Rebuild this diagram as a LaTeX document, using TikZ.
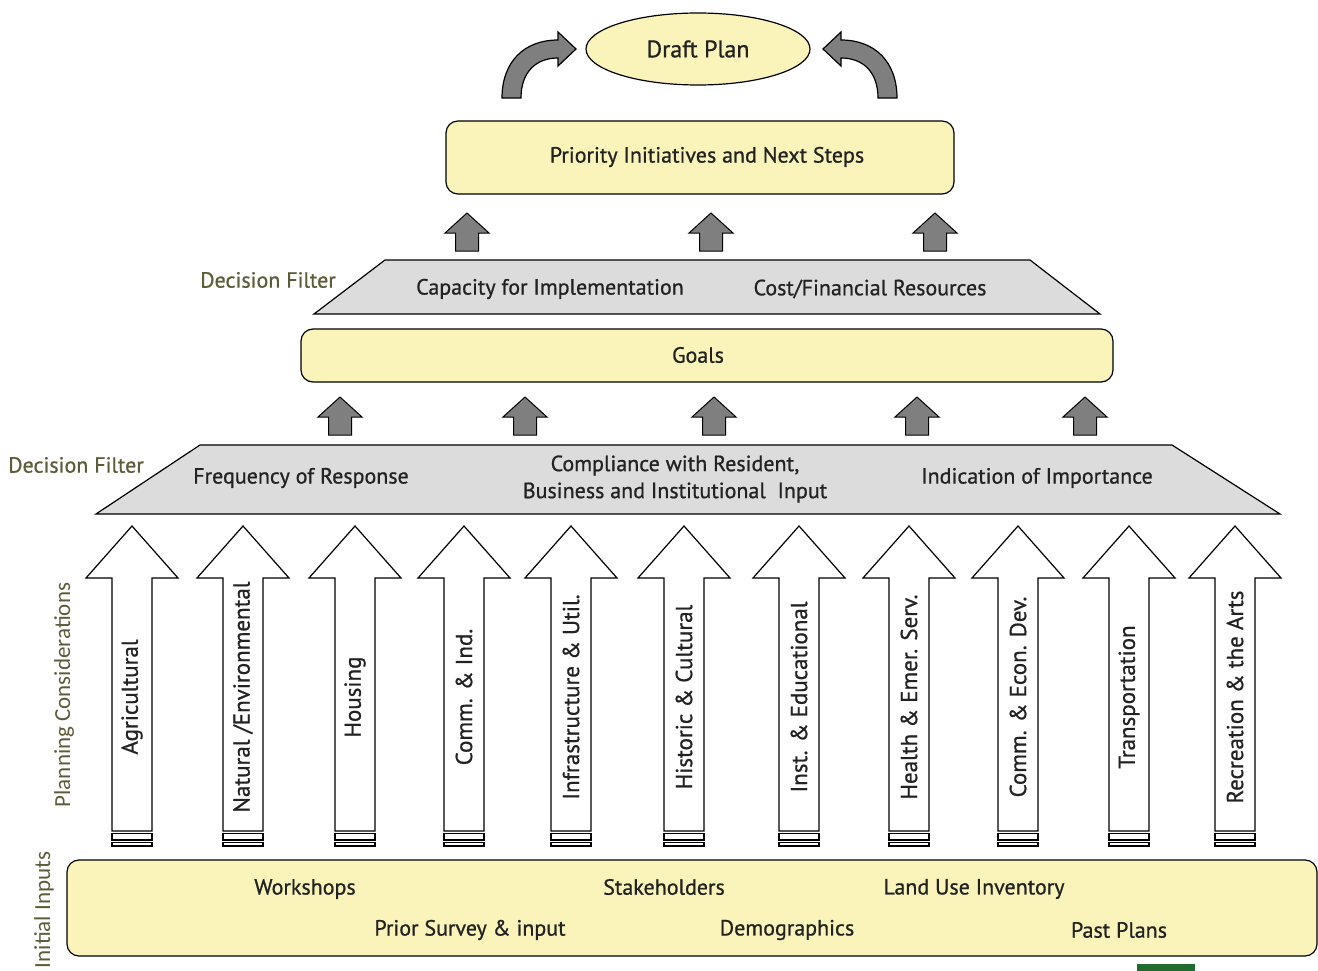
\documentclass[tikz,border=0pt]{standalone}
\usepackage{fontspec}
\setmainfont{PT Sans}[FakeBold=0.8]
\newfontfamily\sidefont{Carlito}
\usetikzlibrary{shapes.geometric}
\definecolor{boxyellow}{HTML}{FAF4BA}
\definecolor{filtergray}{HTML}{DCDCDC}
\definecolor{arrowgray}{HTML}{7F7F7F}
\definecolor{olive}{HTML}{5E5C38}
\definecolor{txt}{HTML}{222222}
\definecolor{darkgreen}{HTML}{226B2E}
\tikzset{
  ybox/.style={draw=black, line width=1.2pt, fill=boxyellow, rounded corners=12pt},
  filt/.style={draw=black, line width=1.2pt, fill=filtergray},
  garrowshape/.style={draw=black, line width=1pt, fill=arrowgray},
  barrow/.style={draw=black, line width=1.2pt, fill=white},
  lbl/.style={text=txt, font=\fontsize{22}{26}\selectfont, inner sep=0pt},
  arrlbl/.style={text=txt, font=\fontsize{23}{27}\selectfont, inner sep=0pt, rotate=90},
  side/.style={text=olive, font=\sidefont\fontsize{23}{27}\selectfont, inner sep=0pt},
  filtlbl/.style={text=olive, font=\fontsize{22}{26}\selectfont, inner sep=0pt},
  garrow/.pic={\draw[garrowshape] (0,0) -- (22,20) -- (11.5,20) -- (11.5,38) -- (-11.5,38) -- (-11.5,20) -- (-22,20) -- cycle;}
}
\begin{document}
\begin{tikzpicture}[x=1pt,y=-1pt,line join=miter]
\useasboundingbox (0,0) rectangle (1318,971);

% Draft plan
\node[draw=black, line width=1.2pt, fill=boxyellow, ellipse, minimum width=224pt, minimum height=72pt, inner sep=0pt, text=txt, font=\fontsize{24}{28}\selectfont] (draft) at (698,49) {Draft Plan};

% curved arrows
\draw[garrowshape, line width=1.2pt] (502,98) .. controls (502,62) and (524,40) .. (558,40) -- (558,32) -- (576,49) -- (558,66) -- (558,58) .. controls (536,58) and (521,72) .. (521,98) -- cycle;
\begin{scope}[shift={(1399,0)}, xscale=-1]
\draw[garrowshape, line width=1.2pt] (502,98) .. controls (502,62) and (524,40) .. (558,40) -- (558,32) -- (576,49) -- (558,66) -- (558,58) .. controls (536,58) and (521,72) .. (521,98) -- cycle;
\end{scope}

% Priority box
\draw[ybox] (446,121) rectangle (954,194);
\node[lbl] (prio) at (707,157) {Priority Initiatives and Next Steps};

% gray arrows top row
\foreach \x in {467,711,935} \pic at (\x,213) {garrow};

% upper filter
\draw[filt] (385,260) -- (1030,260) -- (1100,314) -- (314,314) -- cycle;
\node[lbl] (cap) at (550,289) {Capacity for Implementation};
\node[lbl] (cost) at (870,289) {Cost/Financial Resources};
\node[filtlbl] (df2) at (268,280) {Decision Filter};

% Goals
\draw[ybox] (301,329) rectangle (1113,382);
\node[lbl] (goals) at (698,355) {Goals};

% gray arrows second row
\foreach \x in {340,525,714,917,1085} \pic at (\x,397) {garrow};

% lower filter
\draw[filt] (200,445) -- (1172,445) -- (1280,514) -- (96,514) -- cycle;
\node[lbl] (freq) at (301,478) {Frequency of Response};
\node[lbl, align=center] (comp) at (675,479) {Compliance with Resident,\\[1pt]Business and Institutional\ \ Input};
\node[lbl] (ind) at (1037,478) {Indication of Importance};
\node[filtlbl] (df1) at (76,465) {Decision Filter};

% big arrows
\foreach \x/\t [count=\i] in {132/Agricultural, 243/{Natural /Environmental}, 355/Housing, 464/{Comm. \& Ind.}, 571/{Infrastructure \& Util.}, 684/{Historic \& Cultural}, 799/{Inst. \& Educational}, 909/{Health \& Emer. Serv.}, 1018/{Comm. \& Econ. Dev.}, 1129/Transportation, 1235/{Recreation \& the Arts}} {
  \draw[barrow] (\x,526) -- (\x+46,578) -- (\x+20,578) -- (\x+20,831) -- (\x-20,831) -- (\x-20,578) -- (\x-46,578) -- cycle;
  \draw[barrow] (\x-20,833.5) rectangle (\x+20,840);
  \draw[barrow] (\x-20,842.5) rectangle (\x+20,846);
  \node[arrlbl] (pc\i) at (\x,697) {\t};
}

% side labels
\node[side, rotate=90] (plan) at (64,695) {Planning Considerations};
\node[side, rotate=90] (init) at (44,910) {Initial Inputs};

% Initial inputs box
\draw[ybox] (67,860) rectangle (1317,956);
\node[lbl] (ws) at (305,889) {Workshops};
\node[lbl] (sh) at (664,887) {Stakeholders};
\node[lbl] (lu) at (974,889) {Land Use Inventory};
\node[lbl] (ps) at (470,930) {Prior Survey \& input};
\node[lbl] (dem) at (787,930) {Demographics};
\node[lbl] (pp) at (1119,930) {Past Plans};

% green fragment
\fill[darkgreen] (1137,964) rectangle (1195,971);
\end{tikzpicture}
\end{document}
